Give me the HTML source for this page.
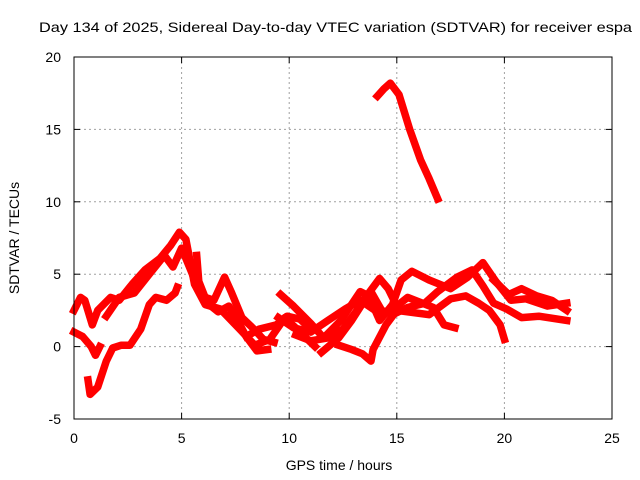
<!DOCTYPE html>
<html><head><meta charset="utf-8"><style>
html,body{margin:0;padding:0;background:#fff;}
svg{display:block;font-family:"Liberation Sans",sans-serif;}
</style></head><body>
<svg id="chart" width="640" height="480" viewBox="0 0 640 480">
<rect width="640" height="480" fill="#fff"/>
<text x="39" y="32" font-size="14" textLength="593" lengthAdjust="spacingAndGlyphs" fill="#000">Day 134 of 2025, Sidereal Day-to-day VTEC variation (SDTVAR) for receiver espa</text>
<g id="grid"></g>
<g id="series"></g>
<rect x="74" y="57" width="538" height="362" fill="none" stroke="#000" stroke-width="1"/>
<g id="ticks"></g>
<text x="339" y="470" font-size="14" text-anchor="middle">GPS time / hours</text>
<text x="0" y="0" font-size="14" text-anchor="middle" transform="translate(19,238) rotate(-90)">SDTVAR / TECUs</text>
</svg>
<script>
const xTicks = [0, 5, 10, 15, 20, 25];
const yTicks = [-5, 0, 5, 10, 15, 20];
const traceA = [[14.1,17.3],[14.4,17.8],[14.7,18.2],[15.1,17.4],[15.6,15.0],[16.1,12.9],[16.5,11.6],[16.9,10.2]];
const traceB = [[0,2.5],[0.3,3.4],[0.5,3.2],[0.85,1.5],[1.1,2.5],[1.7,3.4],[2.1,3.2],[2.7,4.3],[3.3,5.3],[4.0,6.1],[4.5,7.0],[4.9,7.9],[5.2,7.4],[5.6,4.3],[6.1,2.9],[6.8,2.6],[7.7,1.2],[8.4,0.1],[9.1,0.5],[9.8,2.0],[10.5,1.0],[11.2,0.0]];
const traceC = [[0,1.0],[0.4,0.7],[0.8,0.0],[1.0,-0.6],[1.2,0.0]];
const traceD = [[0.65,-2.3],[0.75,-3.3],[1.1,-2.8],[1.5,-1.0],[1.8,-0.1],[2.2,0.1],[2.6,0.1],[3.1,1.2],[3.5,2.9],[3.8,3.4],[4.3,3.2],[4.7,3.7],[4.8,4.1]];
const traceE = [[1.5,2.1],[2.1,3.4],[2.8,3.7],[3.5,5.0],[4.2,6.3],[4.6,5.5],[5.0,6.8],[5.5,5.0],[5.9,3.5],[6.5,3.2],[7.0,4.8],[7.3,3.8],[7.8,2.0],[8.3,1.3],[8.8,0.5],[9.3,0.3]];
const traceF = [[5.7,6.3],[5.8,4.5],[6.2,3.0],[6.7,2.4],[7.2,2.8],[7.6,1.8],[8.0,0.7],[8.5,-0.3],[9.0,-0.2]];
const traceG = [[9.6,3.6],[10.2,2.8],[11,1.6],[11.6,0.6],[12.4,1.8],[13.3,3.8],[13.7,3.5],[14.2,1.8],[14.8,2.9],[15.2,4.6],[15.7,5.2],[16.5,4.6],[17.5,4.0],[18.3,4.8],[19.0,5.8],[19.6,4.5],[20.3,3.2],[21,3.3],[22,2.8],[22.9,3.0]];
const traceH = [[10.3,0.8],[11,0.4],[11.8,0.6],[12.5,1.2],[13.1,2.4],[13.6,3.5],[14.2,4.7],[14.6,4.0],[15.0,2.8],[15.5,3.4],[16.2,3.0],[16.7,2.7],[17.2,1.5],[17.7,1.3]];
const traceI = [[11.5,-0.4],[12.3,0.6],[12.9,1.8],[13.5,3.2],[13.8,3.8],[14.3,2.5],[14.8,2.2],[15.5,2.7],[16.3,3.0],[16.9,3.8],[17.8,4.8],[18.5,5.3],[19,4.2],[19.5,3.0],[20.1,2.6],[20.8,2.0],[21.6,2.1],[22.9,1.8]];
const traceJ = [[12.3,0.1],[12.9,-0.2],[13.4,-0.5],[13.8,-1.0],[13.9,-0.2],[14.5,1.5],[15,2.5],[16.5,2.2],[17.5,3.3],[18.2,3.5],[18.8,3.0],[19.3,2.5],[19.8,1.5],[20.0,0.5]];
const traceK = [[9.5,2.0],[10.2,1.3],[11,1.0],[11.8,1.8],[12.6,2.6],[13.3,3.2],[13.9,2.6]];
const traceL = [[8,0.7],[8.6,1.2],[9.4,1.5],[9.9,2.1],[10.5,1.9],[11.0,1.2]];
const traceM = [[19.5,4.6],[20.2,3.6],[20.8,4.0],[21.5,3.5],[22.2,3.2],[22.9,2.5]];

const NS='http://www.w3.org/2000/svg';
const X0=74,X1=612,Y0=419,Y1=57;
function sx(h){return X0+(h-0)/(25-0)*(X1-X0);}
function sy(v){return Y0-(v-(-5))/(20-(-5))*(Y0-Y1);}
const grid=document.getElementById('grid'), ticks=document.getElementById('ticks'), ser=document.getElementById('series');
function mk(tag,attrs,parent){const e=document.createElementNS(NS,tag);for(const k in attrs)e.setAttribute(k,attrs[k]);parent.appendChild(e);return e;}
xTicks.forEach(t=>{
  const x=sx(t);
  if(t>0&&t<25){const g=mk('line',{x1:x,x2:x,y1:Y1,y2:Y0,stroke:'#a0a0a0','stroke-dasharray':'2,3'},grid);
  
  }
  const a=mk('line',{x1:x,x2:x,y1:Y0,y2:Y0-6,stroke:'#000'},ticks);
  
  
  const b=mk('line',{x1:x,x2:x,y1:Y1,y2:Y1+6,stroke:'#000'},ticks);
  
  
  const l=mk('text',{x:x,y:443,'font-size':14,'text-anchor':'middle'},ticks);l.textContent=t;
  
  
});
yTicks.forEach(t=>{
  const y=sy(t);
  if(t>-5&&t<20){const g=mk('line',{x1:X0,x2:X1,y1:y,y2:y,stroke:'#a0a0a0','stroke-dasharray':'2,3'},grid);
  
  }
  const a=mk('line',{x1:X0,x2:X0+6,y1:y,y2:y,stroke:'#000'},ticks);
  
  
  const b=mk('line',{x1:X1,x2:X1-6,y1:y,y2:y,stroke:'#000'},ticks);
  
  
  const l=mk('text',{x:61,y:y+5,'font-size':14,'text-anchor':'end'},ticks);l.textContent=t;
  
  
});
[traceA,traceB,traceC,traceD,traceE,traceF,traceG,traceH,traceI,traceJ,traceK,traceL,traceM].forEach(tr=>{
  const p=mk('polyline',{points:tr.map(d=>sx(d[0]).toFixed(1)+','+sy(d[1]).toFixed(1)).join(' '),fill:'none',stroke:'#f00','stroke-width':7.5,'stroke-linejoin':'round','stroke-linecap':'square'},ser);
  
  
});
</script>
</body></html>
